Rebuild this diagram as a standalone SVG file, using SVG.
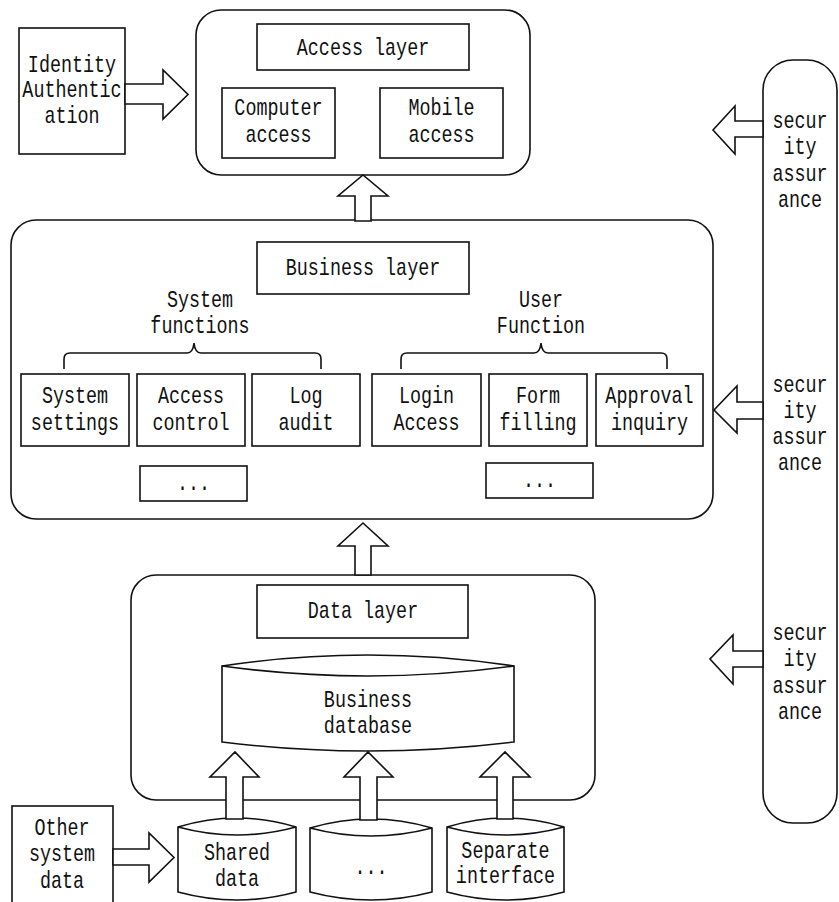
<svg xmlns="http://www.w3.org/2000/svg" width="839" height="902" viewBox="0 0 839 902">
<style>
.b{fill:#fff;stroke:#111;stroke-width:1.6}
.n{fill:none;stroke:#111;stroke-width:1.6}
.t{font-family:"Liberation Mono","DejaVu Sans Mono",monospace;font-size:23px;text-anchor:middle;fill:#111}
.a{fill:#fff;stroke:#111;stroke-width:1.6;stroke-linejoin:miter}
</style>
<rect width="839" height="902" fill="#fff"/>
<g id="access-layer-group">
<rect class="b" x="196" y="10" width="334" height="165" rx="25"/>
</g>
<g id="business-layer-group">
<rect class="b" x="11" y="220" width="702" height="299" rx="25"/>
</g>
<g id="data-layer-group">
<rect class="b" x="131" y="575" width="464" height="225" rx="25"/>
</g>
<g id="security">
<rect class="b" x="763" y="60" width="74" height="763" rx="30"/>
<text class="t" transform="translate(800 0) scale(0.8 1)" y="128">secur</text>
<text class="t" transform="translate(800 0) scale(0.8 1)" y="154">ity</text>
<text class="t" transform="translate(800 0) scale(0.8 1)" y="181">assur</text>
<text class="t" transform="translate(800 0) scale(0.8 1)" y="207">ance</text>
<text class="t" transform="translate(800 0) scale(0.8 1)" y="392">secur</text>
<text class="t" transform="translate(800 0) scale(0.8 1)" y="418">ity</text>
<text class="t" transform="translate(800 0) scale(0.8 1)" y="444">assur</text>
<text class="t" transform="translate(800 0) scale(0.8 1)" y="470">ance</text>
<text class="t" transform="translate(800 0) scale(0.8 1)" y="640">secur</text>
<text class="t" transform="translate(800 0) scale(0.8 1)" y="666">ity</text>
<text class="t" transform="translate(800 0) scale(0.8 1)" y="693">assur</text>
<text class="t" transform="translate(800 0) scale(0.8 1)" y="719">ance</text>
</g>
<g id="identity">
<rect class="b" x="19" y="28" width="106" height="126"/>
<text class="t" transform="translate(72 0) scale(0.8 1)" y="72">Identity</text>
<text class="t" transform="translate(72 0) scale(0.8 1)" y="97">Authentic</text>
<text class="t" transform="translate(72 0) scale(0.8 1)" y="123">ation</text>
</g>
<g id="access-layer">
<rect class="b" x="257" y="24" width="212" height="46"/>
<text class="t" transform="translate(363 0) scale(0.8 1)" y="55">Access layer</text>
</g>
<g id="computer-access">
<rect class="b" x="222" y="88" width="113" height="70"/>
<text class="t" transform="translate(278.5 0) scale(0.8 1)" y="115">Computer</text>
<text class="t" transform="translate(278.5 0) scale(0.8 1)" y="142">access</text>
</g>
<g id="mobile-access">
<rect class="b" x="380" y="88" width="123" height="70"/>
<text class="t" transform="translate(441.5 0) scale(0.8 1)" y="115">Mobile</text>
<text class="t" transform="translate(441.5 0) scale(0.8 1)" y="142">access</text>
</g>
<g id="business-layer">
<rect class="b" x="257" y="242" width="212" height="52"/>
<text class="t" transform="translate(363 0) scale(0.8 1)" y="275">Business layer</text>
</g>
<g id="system-functions">
<text class="t" transform="translate(200 0) scale(0.8 1)" y="307">System</text>
<text class="t" transform="translate(200 0) scale(0.8 1)" y="333">functions</text>
<path class="n" d="M64,369 L64,359 Q64,353 70,353 L187,353 Q193,353 194,343 Q195,353 201,353 L315,353 Q321,353 321,359 L321,369"/>
</g>
<g id="user-function">
<text class="t" transform="translate(541 0) scale(0.8 1)" y="307">User</text>
<text class="t" transform="translate(541 0) scale(0.8 1)" y="333">Function</text>
<path class="n" d="M401,369 L401,359 Q401,353 407,353 L534,353 Q540,353 541,343 Q542,353 548,353 L661,353 Q667,353 667,359 L667,369"/>
</g>
<g id="system-settings">
<rect class="b" x="21" y="374" width="108" height="72"/>
<text class="t" transform="translate(75 0) scale(0.8 1)" y="403">System</text>
<text class="t" transform="translate(75 0) scale(0.8 1)" y="430">settings</text>
</g>
<g id="access-control">
<rect class="b" x="137" y="374" width="108" height="72"/>
<text class="t" transform="translate(191 0) scale(0.8 1)" y="403">Access</text>
<text class="t" transform="translate(191 0) scale(0.8 1)" y="430">control</text>
</g>
<g id="log-audit">
<rect class="b" x="252" y="374" width="108" height="72"/>
<text class="t" transform="translate(306 0) scale(0.8 1)" y="403">Log</text>
<text class="t" transform="translate(306 0) scale(0.8 1)" y="430">audit</text>
</g>
<g id="login-access">
<rect class="b" x="372" y="374" width="109" height="72"/>
<text class="t" transform="translate(426.5 0) scale(0.8 1)" y="403">Login</text>
<text class="t" transform="translate(426.5 0) scale(0.8 1)" y="430">Access</text>
</g>
<g id="form-filling">
<rect class="b" x="489" y="374" width="98" height="72"/>
<text class="t" transform="translate(538 0) scale(0.8 1)" y="403">Form</text>
<text class="t" transform="translate(538 0) scale(0.8 1)" y="430">filling</text>
</g>
<g id="approval-inquiry">
<rect class="b" x="596" y="374" width="107" height="72"/>
<text class="t" transform="translate(649.5 0) scale(0.8 1)" y="403">Approval</text>
<text class="t" transform="translate(649.5 0) scale(0.8 1)" y="430">inquiry</text>
</g>
<g id="system-more">
<rect class="b" x="140" y="466" width="107" height="35"/>
<text class="t" transform="translate(193.5 0) scale(0.8 1)" y="490">...</text>
</g>
<g id="user-more">
<rect class="b" x="486" y="463" width="107" height="35"/>
<text class="t" transform="translate(539.5 0) scale(0.8 1)" y="487">...</text>
</g>
<g id="data-layer">
<rect class="b" x="257" y="585" width="211" height="53"/>
<text class="t" transform="translate(363 0) scale(0.8 1)" y="618">Data layer</text>
</g>
<g id="business-database">
<path class="b" d="M222,666 Q368,644 514,666 L514,742 Q368,760 222,742 Z"/>
<path class="n" d="M222,666 Q368,686 514,666"/>
<text class="t" transform="translate(368 0) scale(0.8 1)" y="707">Business</text>
<text class="t" transform="translate(368 0) scale(0.8 1)" y="733">database</text>
</g>
<g id="other-system-data">
<rect class="b" x="12" y="806" width="101" height="110"/>
<text class="t" transform="translate(62 0) scale(0.8 1)" y="835">Other</text>
<text class="t" transform="translate(62 0) scale(0.8 1)" y="861">system</text>
<text class="t" transform="translate(62 0) scale(0.8 1)" y="888">data</text>
</g>
<g id="shared-data">
<path class="b" d="M178,827 Q237,809 296,827 L296,892 Q237,908 178,892 Z"/>
<path class="n" d="M178,827 Q237,843 296,827"/>
<text class="t" transform="translate(237 0) scale(0.8 1)" y="860">Shared</text>
<text class="t" transform="translate(237 0) scale(0.8 1)" y="886">data</text>
</g>
<g id="more-data">
<path class="b" d="M310,828 Q371,810 432,828 L432,892 Q371,908 310,892 Z"/>
<path class="n" d="M310,828 Q371,844 432,828"/>
<text class="t" transform="translate(371 0) scale(0.8 1)" y="874">...</text>
</g>
<g id="separate-interface">
<path class="b" d="M447,827 Q505.5,809 564,827 L564,892 Q505.5,908 447,892 Z"/>
<path class="n" d="M447,827 Q505.5,843 564,827"/>
<text class="t" transform="translate(505.5 0) scale(0.8 1)" y="858">Separate</text>
<text class="t" transform="translate(505.5 0) scale(0.8 1)" y="883">interface</text>
</g>
<g id="connectors">
<polygon class="a" points="125,84 163,84 163,70 188,94.5 163,119 163,104 125,104"/>
<polygon class="a" points="355,221 355,196 338,196 363,175 388,196 371,196 371,221"/>
<polygon class="a" points="355,575 355,546 338,546 363,523 388,546 371,546 371,575"/>
<polygon class="a" points="226,819 226,777 210,777 235,752 259,777 243,777 243,819"/>
<polygon class="a" points="360,820 360,777 344,777 368,752 393,777 377,777 377,820"/>
<polygon class="a" points="497,819 497,777 480,777 505,752 530,777 513,777 513,819"/>
<polygon class="a" points="113,849 149,849 149,833 174,857.5 149,882 149,865 113,865"/>
<polygon class="a" points="763,121 735,121 735,106 713,130 735,154 735,137 763,137"/>
<polygon class="a" points="763,402 737,402 737,386 714,410 737,433 737,419 763,419"/>
<polygon class="a" points="763,651 733,651 733,635 710,659 733,684 733,667 763,667"/>
</g>
</svg>
